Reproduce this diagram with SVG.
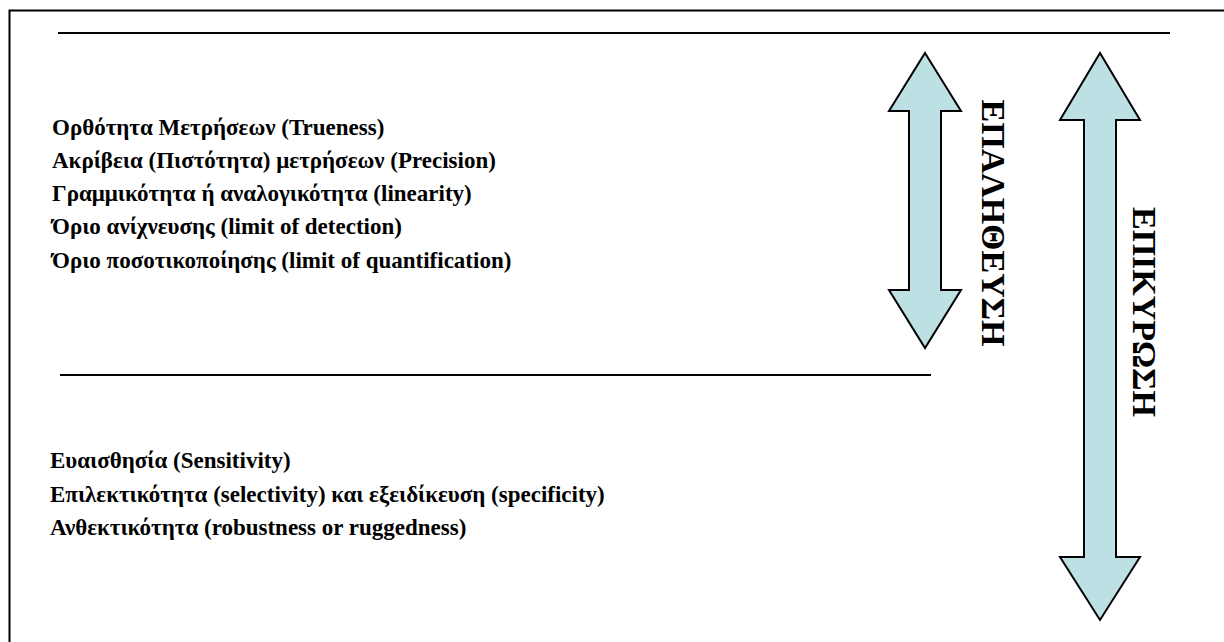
<svg xmlns="http://www.w3.org/2000/svg" width="1224" height="642" viewBox="0 0 1224 642">
<style>
.t{font-family:"Liberation Serif","Times New Roman",serif;font-weight:bold;font-size:23px;fill:#000}
.v{font-family:"Liberation Serif","Times New Roman",serif;font-weight:bold;font-size:34px;fill:#000;text-anchor:middle}
.ln{stroke:#000;stroke-width:2;fill:none}
.ar{fill:#bce0e3;stroke:#000;stroke-width:2;stroke-linejoin:miter}
</style>
<rect x="0" y="0" width="1224" height="642" fill="#fff"/>
<rect x="9.5" y="10.5" width="1240" height="660" class="ln"/>
<g id="connectors">
<line x1="58" y1="33" x2="1170" y2="33" class="ln"/>
<line x1="60" y1="375" x2="931" y2="375" class="ln"/>
</g>
<g id="arrow-epalitheusi">
<polygon class="ar" points="925,53 961,111 941,111 941,290 961,290 925,348 889,290 909,290 909,111 889,111"/>
<text class="v" transform="translate(982,223) rotate(90)">ΕΠΑΛΗΘΕΥΣΗ</text>
</g>
<g id="arrow-epikyrosi">
<polygon class="ar" points="1100,53 1140,120 1116,120 1116,557 1140,557 1100,620 1060,557 1084,557 1084,120 1060,120"/>
<text class="v" transform="translate(1133,312) rotate(90)">ΕΠΙΚΥΡΩΣΗ</text>
</g>
<g id="group-verification">
<text class="t" x="52" y="135">Ορθότητα Μετρήσεων (Trueness)</text>
<text class="t" x="52" y="168">Ακρίβεια (Πιστότητα) μετρήσεων (Precision)</text>
<text class="t" x="52" y="201">Γραμμικότητα ή αναλογικότητα (linearity)</text>
<text class="t" x="52" y="234">Όριο ανίχνευσης (limit of detection)</text>
<text class="t" x="52" y="268">Όριο ποσοτικοποίησης (limit of quantification)</text>
</g>
<g id="group-validation">
<text class="t" x="50" y="468">Ευαισθησία (Sensitivity)</text>
<text class="t" x="50" y="502">Επιλεκτικότητα (selectivity) και εξειδίκευση (specificity)</text>
<text class="t" x="50" y="535">Ανθεκτικότητα (robustness or ruggedness)</text>
</g>
</svg>
